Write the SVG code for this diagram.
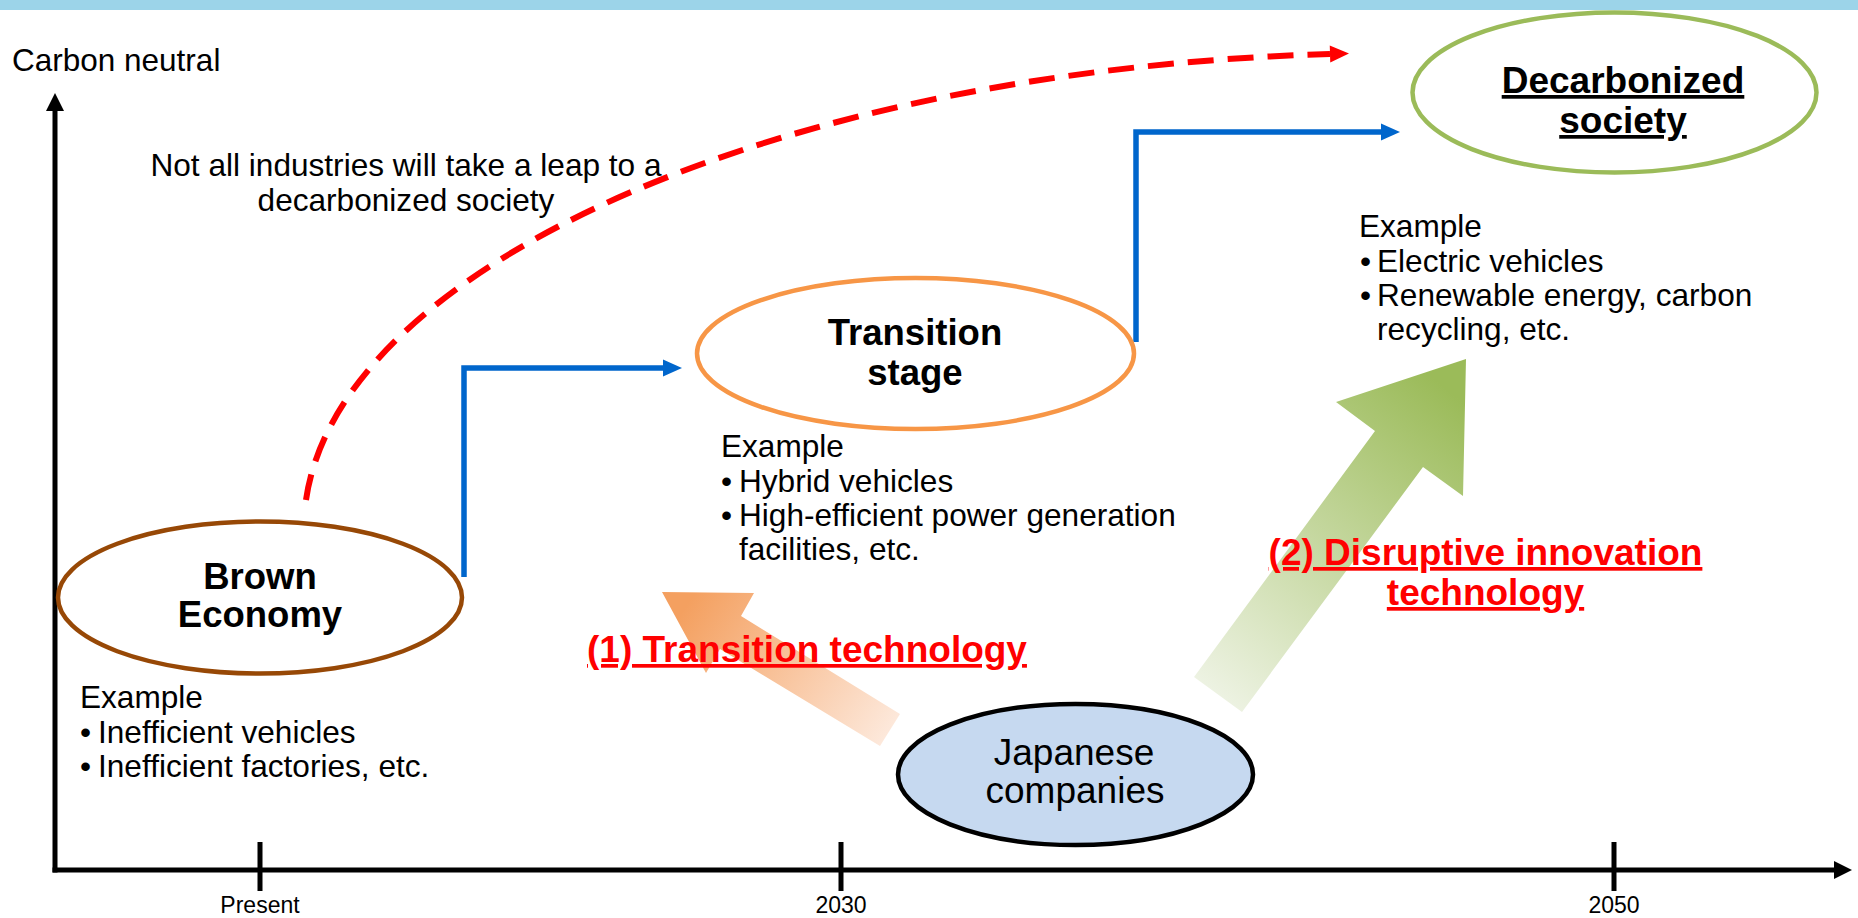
<svg xmlns="http://www.w3.org/2000/svg" width="1858" height="918" viewBox="0 0 1858 918">
<style>
text{font-family:"Liberation Sans",Arial,sans-serif;fill:#000}
.body{font-size:31.6px}
.title{font-size:36.5px;font-weight:bold;text-anchor:middle}
.red{font-size:37px;font-weight:bold;fill:#FF0000;text-anchor:middle;text-decoration:underline}
.tick{font-size:23px;text-anchor:middle}
.axis{stroke:#000;stroke-width:5;fill:none}
.blue{stroke:#0066CC;stroke-width:5.5;fill:none;stroke-linejoin:miter}
</style>
<defs>
<marker id="mBlack" markerUnits="userSpaceOnUse" markerWidth="18" markerHeight="18" refX="0" refY="9" orient="auto" overflow="visible"><path d="M0,0 L18,9 L0,18 Z" fill="#000"/></marker>
<marker id="mBlue" markerUnits="userSpaceOnUse" markerWidth="19" markerHeight="18" refX="0" refY="9" orient="auto" overflow="visible"><path d="M0,0.5 L19,9 L0,17.5 Z" fill="#0066CC"/></marker>
<marker id="mRed" markerUnits="userSpaceOnUse" markerWidth="19" markerHeight="18" refX="0" refY="9" orient="auto" overflow="visible"><path d="M0,0.5 L19,9 L0,17.5 Z" fill="#FF0000"/></marker>
<linearGradient id="gOrange" gradientUnits="userSpaceOnUse" x1="890" y1="735" x2="690" y2="600"><stop offset="0" stop-color="#FDE9DC"/><stop offset="1" stop-color="#F4A060"/></linearGradient>
<linearGradient id="gGreen" gradientUnits="userSpaceOnUse" x1="1215" y1="700" x2="1460" y2="400"><stop offset="0" stop-color="#EEF3E4"/><stop offset="1" stop-color="#9BBB59"/></linearGradient>
</defs>
<rect x="0" y="0" width="1858" height="10" fill="#9CD4E9"/>
<g id="axes">
<path class="axis" d="M55,872.5 V111" marker-end="url(#mBlack)"/>
<path class="axis" d="M52.5,870 H1834" marker-end="url(#mBlack)"/>
<path class="axis" d="M260,842 V891 M841,842 V891 M1614,842 V891"/>
<text x="12" y="71" style="font-size:31.5px">Carbon neutral</text>
<text class="tick" x="260" y="913">Present</text>
<text class="tick" x="841" y="913">2030</text>
<text class="tick" x="1614" y="913">2050</text>
</g>
<g id="connectors">
<polygon id="arrow-transition-tech" points="662,592 754,593 741,616 900,714 880,746 720,649 706,673" fill="url(#gOrange)"/>
<polygon id="arrow-disruptive-tech" points="1466,359 1336,402 1375,431 1194,677 1242,712 1423,467 1463,496" fill="url(#gGreen)"/>
<path class="blue" d="M464,577 V368 H663" marker-end="url(#mBlue)"/>
<path class="blue" d="M1136,342 V132 H1381" marker-end="url(#mBlue)"/>
<path d="M306,500 C340,265 780,70 1330,54" fill="none" stroke="#FF0000" stroke-width="6" stroke-dasharray="26 14" marker-end="url(#mRed)"/>
</g>
<g id="note">
<text class="body" x="406" y="176" text-anchor="middle">Not all industries will take a leap to a</text>
<text class="body" x="406" y="211" text-anchor="middle">decarbonized society</text>
</g>
<g id="brown-economy">
<ellipse cx="260" cy="597.5" rx="202" ry="76" fill="#fff" stroke="#974806" stroke-width="4.5"/>
<text class="title" x="260" y="589">Brown</text>
<text class="title" x="260" y="627">Economy</text>
<text class="body" x="80" y="708">Example</text>
<text class="body" x="80" y="743">•</text><text class="body" x="98" y="743">Inefficient vehicles</text>
<text class="body" x="80" y="777">•</text><text class="body" x="98" y="777">Inefficient factories, etc.</text>
</g>
<g id="transition-stage">
<ellipse cx="915.5" cy="353.5" rx="218.5" ry="75.5" fill="#fff" stroke="#F79646" stroke-width="4.5"/>
<text class="title" x="915" y="345">Transition</text>
<text class="title" x="915" y="385">stage</text>
<text class="body" x="721" y="457">Example</text>
<text class="body" x="721" y="492">•</text><text class="body" x="739" y="492">Hybrid vehicles</text>
<text class="body" x="721" y="526">•</text><text class="body" x="739" y="526">High-efficient power generation</text>
<text class="body" x="739" y="560">facilities, etc.</text>
</g>
<g id="decarbonized-society">
<ellipse cx="1614.5" cy="92.5" rx="202" ry="80" fill="#fff" stroke="#9BBB59" stroke-width="4.5"/>
<text class="title" x="1623" y="93" style="font-size:37px;text-decoration:underline">Decarbonized</text>
<text class="title" x="1623" y="133" style="font-size:37px;text-decoration:underline">society</text>
<text class="body" x="1359" y="237">Example</text>
<text class="body" x="1360" y="272">•</text><text class="body" x="1377" y="272">Electric vehicles</text>
<text class="body" x="1360" y="306">•</text><text class="body" x="1377" y="306">Renewable energy, carbon</text>
<text class="body" x="1377" y="340">recycling, etc.</text>
</g>
<g id="japanese-companies">
<ellipse cx="1075.5" cy="774.5" rx="177.5" ry="70.5" fill="#C6D9F0" stroke="#000" stroke-width="4.5"/>
<text x="1074" y="765" text-anchor="middle" style="font-size:37px">Japanese</text>
<text x="1075" y="803" text-anchor="middle" style="font-size:37px">companies</text>
</g>
<g id="label-transition-technology">
<text class="red" x="807" y="662">(1) Transition technology</text>
</g>
<g id="label-disruptive-innovation">
<text class="red" x="1485.5" y="565">(2) Disruptive innovation</text>
<text class="red" x="1485.5" y="605">technology</text>
</g>
</svg>
